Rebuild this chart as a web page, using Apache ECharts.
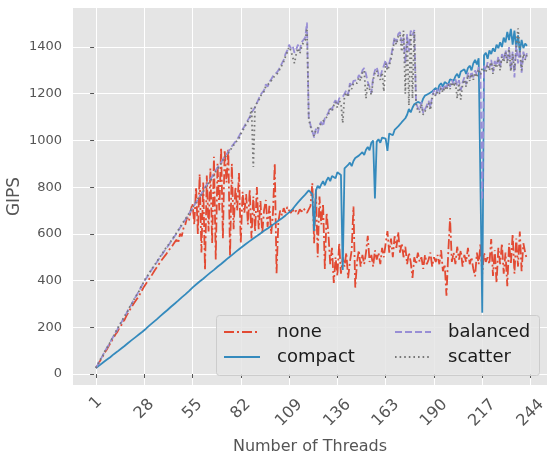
<!DOCTYPE html>
<html><head><meta charset="utf-8">
<script src="https://cdn.jsdelivr.net/npm/echarts@6/dist/echarts.min.js"></script>
<style>html,body{margin:0;padding:0;background:#fff}#c{width:549px;height:454px}</style>
</head><body><div id="c"></div>
<script>
const threads = Array.from({length: 242}, (_, i) => i + 1);
const xTicks = [1, 28, 55, 82, 109, 136, 163, 190, 217, 244];
const yTicks = [0, 200, 400, 600, 800, 1000, 1200, 1400];
const seriesNames = ['none', 'compact', 'balanced', 'scatter'];

const none = [
26,38,52,64,78,92,104,118,130,144,
156,170,180,196,205,222,232,248,256,275,
282,300,306,322,332,348,356,375,380,398,
400,420,418,445,440,468,462,490,486,510,
505,532,525,552,545,575,560,600,590,625,
640,672,655,700,730,640,800,600,855,520,
820,445,850,610,880,560,930,490,900,700,
970,580,960,820,965,505,900,620,800,700,
860,560,780,690,770,640,790,580,760,610,
800,620,740,600,700,745,630,720,600,690,
903,432,650,700,680,710,690,715,700,690,
705,690,700,685,705,695,710,700,690,705,
720,817,560,790,500,760,640,730,450,690,
600,470,540,390,500,420,560,430,500,460,
520,410,480,530,717,370,480,530,460,510,
470,520,592,480,510,460,530,490,520,470,
540,500,560,612,520,580,500,590,540,608,
520,560,500,545,470,520,480,411,500,470,
520,480,500,450,510,470,490,520,460,500,
480,510,470,530,440,470,335,520,668,480,
520,470,545,490,530,460,510,480,540,470,
500,450,418,520,470,557,430,520,480,500,
470,578,420,530,390,540,470,560,430,520,
376,560,470,600,430,580,460,610,440,560,
520,490];

const compact = [
26,31,37,42,49,54,61,66,72,78,
85,90,96,103,108,115,120,126,133,138,
145,151,157,162,169,175,181,188,194,201,
208,214,221,228,234,241,248,254,261,268,
274,281,288,295,301,308,314,322,328,335,
341,349,355,363,370,376,383,389,396,402,
408,415,421,427,434,440,446,453,459,465,
471,478,484,490,497,503,509,515,522,528,
534,541,546,552,558,563,569,574,580,585,
591,596,602,607,613,618,623,629,634,640,
645,651,656,662,667,673,679,686,692,700,
706,716,722,735,741,752,760,768,776,786,
792,770,612,785,806,795,812,826,808,830,
842,826,848,856,838,864,870,852,445,880,
872,895,905,890,912,925,918,935,942,950,
938,960,972,958,990,1000,752,995,1005,990,
1012,1020,1008,955,1030,1036,1022,1045,1052,1060,
1068,1078,1070,1095,1110,1135,1120,1140,1155,1148,
1165,1170,1158,1180,1192,1185,1200,1195,1210,1215,
1225,1212,1236,1245,1230,1250,1258,1240,1262,1270,
1255,1275,1285,1268,1295,1290,1305,1285,1310,1320,
1300,1330,1345,1325,1352,1360,262,1365,1375,1350,
1385,1370,1395,1380,1410,1395,1420,1400,1440,1420,
1465,1430,1478,1410,1470,1395,1450,1380,1430,1395,
1415,1405];

const balanced = [
26,40,55,68,82,97,110,122,138,150,
165,178,190,206,218,232,247,258,274,287,
300,315,328,340,356,368,383,398,408,420,
431,445,455,466,478,490,500,512,523,535,
545,556,568,578,590,601,612,626,636,650,
660,672,686,698,710,722,735,748,760,772,
786,800,808,822,835,845,858,872,880,895,
906,918,930,940,952,962,975,985,993,1005,
1018,1032,1048,1060,1075,1088,1100,1118,1130,1142,
1160,1178,1195,1205,1215,1240,1230,1250,1262,1275,
1268,1290,1300,1315,1330,1345,1370,1385,1410,1395,
1405,1375,1390,1410,1385,1420,1430,1440,1505,1100,
1065,1040,1012,1050,1030,1068,1080,1060,1095,1105,
1120,1143,1130,1160,1172,1150,1180,1175,1186,1200,
1215,1195,1245,1230,1255,1262,1258,1280,1270,1300,
1310,1285,1250,1230,1203,1270,1300,1314,1285,1271,
1300,1320,1344,1310,1331,1360,1400,1443,1420,1455,
1464,1417,1440,1330,1455,1380,1470,1450,1473,1160,
1140,1130,1165,1117,1125,1150,1170,1140,1190,1215,
1195,1220,1205,1235,1215,1240,1225,1250,1230,1258,
1240,1262,1235,1258,1215,1248,1270,1240,1290,1265,
1295,1270,1300,1280,1314,1290,745,1320,1300,1335,
1310,1345,1295,1340,1320,1360,1310,1370,1345,1387,
1340,1400,1300,1380,1270,1410,1330,1390,1290,1380,
1350,1373];

const scatter = [
26,42,54,70,80,98,108,124,136,152,
163,180,188,208,216,234,245,260,272,289,
298,317,326,342,353,370,381,400,405,423,
428,447,452,469,475,492,497,515,520,538,
542,558,565,581,586,604,608,628,632,652,
656,674,682,700,705,724,730,750,755,768,
780,796,800,818,828,840,850,868,873,890,
900,915,922,936,945,958,968,980,985,1000,
1010,1028,1040,1056,1068,1082,1095,1140,886,1150,
1155,1170,1190,1198,1210,1232,1225,1245,1255,1268,
1262,1282,1292,1308,1322,1338,1360,1378,1400,1385,
1380,1330,1370,1395,1372,1400,1420,1430,1480,1090,
1060,1035,1020,1045,1040,1060,1075,1070,1090,1100,
1112,1135,1125,1150,1165,1140,1170,1160,1075,1190,
1205,1185,1235,1220,1245,1250,1245,1270,1255,1290,
1300,1180,1240,1220,1195,1260,1290,1300,1270,1260,
1290,1210,1330,1300,1320,1350,1390,1430,1410,1445,
1455,1380,1470,1200,1440,1150,1460,1180,1465,1150,
1130,1120,1155,1110,1115,1140,1160,1130,1180,1205,
1190,1210,1200,1225,1205,1230,1215,1240,1220,1250,
1230,1250,1180,1245,1175,1240,1260,1230,1280,1255,
1285,1260,1290,1270,1305,1280,1310,1310,1290,1325,
1300,1335,1285,1330,1310,1350,1300,1360,1335,1378,
1330,1392,1295,1370,1300,1400,1480,1385,1300,1370,
1345,1365];

const FONT = 'DejaVu Sans';
const X_MIN = -11.8, X_MAX = 253.2;
const Y_MIN = -47, Y_MAX = 1567;

const styles = {
  none:     {color: '#E24A33', type: [10, 3, 2, 3]},
  compact:  {color: '#348ABD', type: 'solid'},
  balanced: {color: '#988ED5', type: [7, 3]},
  scatter:  {color: '#777777', type: [1.6, 3]}
};
const values = {none, compact, balanced, scatter};

function xAxisBase(extra) {
  return Object.assign({
    type: 'value', gridIndex: 0, position: 'bottom', min: X_MIN, max: X_MAX,
    axisLine: {show: false},
    axisTick: {show: false},
    splitLine: {show: false}
  }, extra);
}
function xLabel(vals, margin) {
  return {
    show: true, customValues: vals, rotate: 45, align: 'center', verticalAlign: 'middle',
    margin: margin, fontSize: 16, color: '#555555', fontFamily: FONT,
    formatter: v => String(v)
  };
}
function legendCol(names, left) {
  return {
    data: names, orient: 'vertical', left: left, top: 323, padding: 0,
    itemWidth: 36, itemHeight: 14, itemGap: 7, z: 10,
    itemStyle: {opacity: 0, borderWidth: 0},
    textStyle: {fontSize: 18, lineHeight: 18, color: '#1a1a1a', fontFamily: FONT, padding: [0, 0, 0, 12]}
  };
}

const chart = echarts.init(document.getElementById('c'), null, {renderer: 'canvas'});
chart.setOption({
  animation: false,
  textStyle: {fontFamily: FONT},
  grid: {left: 73, right: 2, top: 8, bottom: 69, show: true, backgroundColor: '#E5E5E5', borderWidth: 0, containLabel: false, outerBoundsMode: 'none'},
  xAxis: [
    xAxisBase({
      name: 'Number of Threads', nameLocation: 'middle', nameGap: 54, nameMoveOverlap: false,
      nameTextStyle: {fontSize: 16, color: '#555555', fontFamily: FONT},
      axisTick: {show: true, customValues: xTicks, length: 4, lineStyle: {color: '#555555'}},
      axisLabel: xLabel([28, 55, 82], 24),
      splitLine: {show: true, lineStyle: {color: '#FFFFFF', width: 1}}
    }),
    xAxisBase({axisLabel: xLabel([1], 18)}),
    xAxisBase({axisLabel: xLabel([109, 136, 163, 190, 217, 244], 28)})
  ],
  yAxis: {
    type: 'value', min: Y_MIN, max: Y_MAX,
    name: 'GIPS', nameLocation: 'middle', nameGap: 50, nameMoveOverlap: false,
    nameTextStyle: {fontSize: 17, color: '#555555', fontFamily: FONT},
    axisLine: {show: false},
    axisTick: {show: true, customValues: yTicks, length: 4, lineStyle: {color: '#555555'}},
    axisLabel: {customValues: yTicks, margin: 11, fontSize: 13, color: '#555555', fontFamily: FONT,
      formatter: v => String(v)},
    splitLine: {show: true, lineStyle: {color: '#FFFFFF', width: 1}}
  },
  legend: [legendCol(['none', 'compact'], 223), legendCol(['balanced', 'scatter'], 394)],
  graphic: [{
    type: 'rect', z: 9, left: 216, top: 315,
    shape: {width: 323, height: 60, r: 3},
    style: {fill: 'rgba(229,229,229,0.85)', stroke: '#CCCCCC', lineWidth: 1}
  }],
  series: seriesNames.map(n => ({
    name: n, type: 'line', xAxisIndex: 0, yAxisIndex: 0,
    showSymbol: false, symbol: 'none', smooth: false,
    data: threads.map((t, i) => [t, values[n][i]]),
    lineStyle: {color: styles[n].color, width: 1.8, type: styles[n].type, cap: 'butt'},
    itemStyle: {color: styles[n].color}
  }))
});
</script></body></html>
